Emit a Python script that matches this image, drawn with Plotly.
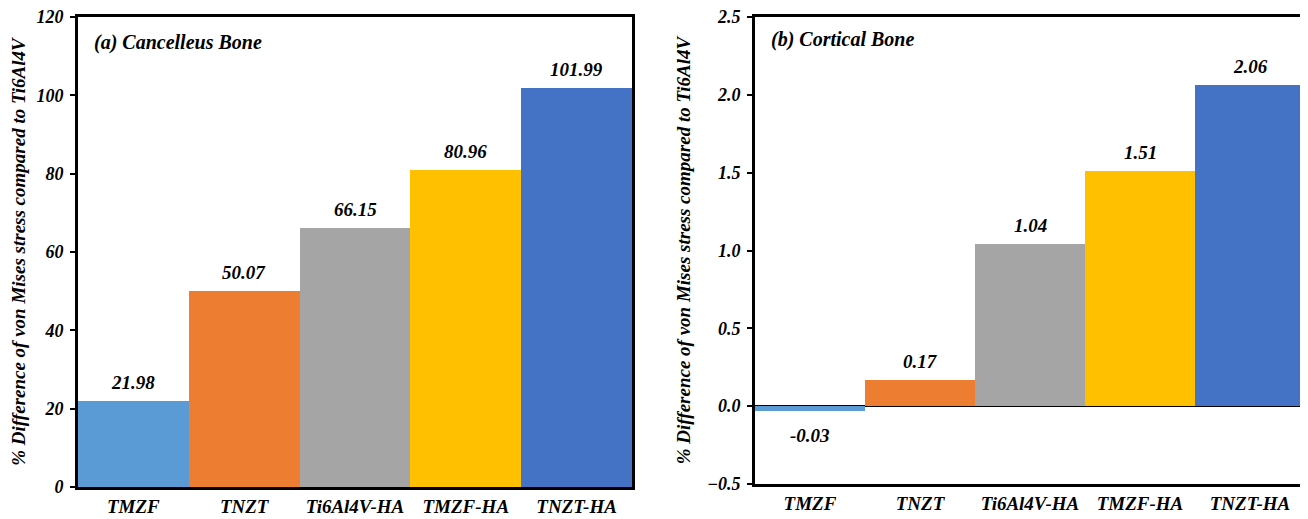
import plotly.graph_objects as go

categories = ["TMZF", "TNZT", "Ti6Al4V-HA", "TMZF-HA", "TNZT-HA"]
cancellous = [21.98, 50.07, 66.15, 80.96, 101.99]
cortical = [-0.03, 0.17, 1.04, 1.51, 2.06]
colors = ["#5B9BD5", "#ED7D31", "#A5A5A5", "#FFC000", "#4472C4"]
ytitle = "% Difference of von Mises stress compared to Ti6Al4V"

FAM = "Liberation Serif"
def f(size):
    return dict(family=FAM, size=size, color="black", weight="bold", style="italic")

W, H = 1300, 511
fig = go.Figure()
fig.add_trace(go.Bar(x=categories, y=cancellous, marker=dict(color=colors, line=dict(width=0)),
                     xaxis="x", yaxis="y", showlegend=False))
fig.add_trace(go.Bar(x=categories, y=cortical, marker=dict(color=colors, line=dict(width=0)),
                     xaxis="x2", yaxis="y2", showlegend=False))

ann = []
for c, v in zip(categories, cancellous):
    ann.append(dict(x=c, y=v, xref="x", yref="y", text=f"{v:.2f}", showarrow=False,
                    yanchor="bottom", yshift=6, font=f(19)))
for c, v in zip(categories, cortical):
    ann.append(dict(x=c, y=v, xref="x2", yref="y2", text=f"{v:.2f}", showarrow=False,
                    yanchor="bottom" if v >= 0 else "top", yshift=6 if v >= 0 else -12, font=f(19)))
ann.append(dict(x=0.025, y=0.975, xref="x domain", yref="y domain", text="(a) Cancelleus Bone",
                showarrow=False, xanchor="left", yanchor="top", font=f(20)))
ann.append(dict(x=0.025, y=0.98, xref="x2 domain", yref="y2 domain", text="(b) Cortical Bone",
                showarrow=False, xanchor="left", yanchor="top", font=f(20)))

axline = dict(showline=True, linecolor="black", linewidth=3, mirror=True, showgrid=False)
ycommon = dict(tickfont=f(18), ticks="outside", ticklen=5, tickwidth=1.5, tickcolor="black",
               ticklabelstandoff=3, ticklabeloverflow="allow")
fig.update_layout(
    width=W, height=H,
    margin=dict(l=0, r=0, t=9, b=32),
    paper_bgcolor="white", plot_bgcolor="white",
    bargap=0,
    annotations=ann,
    xaxis=dict(domain=[70/W, 624/W], anchor="y", tickfont=f(19), ticks="", **axline),
    xaxis2=dict(domain=[747/W, 1297/W], anchor="y2", tickfont=f(19), ticks="", **axline),
    yaxis=dict(domain=[0, 1], anchor="x", range=[0, 120], dtick=20, zeroline=False,
               title=dict(text=ytitle, font=f(19), standoff=12), **ycommon, **axline),
    yaxis2=dict(domain=[3/470, 1], anchor="x2", range=[-0.5, 2.5], dtick=0.5, tickformat=".1f",
                zeroline=True, zerolinecolor="black", zerolinewidth=1.5,
                title=dict(text=ytitle, font=f(19), standoff=12), **ycommon, **axline),
)
fig.write_html("out.html")
